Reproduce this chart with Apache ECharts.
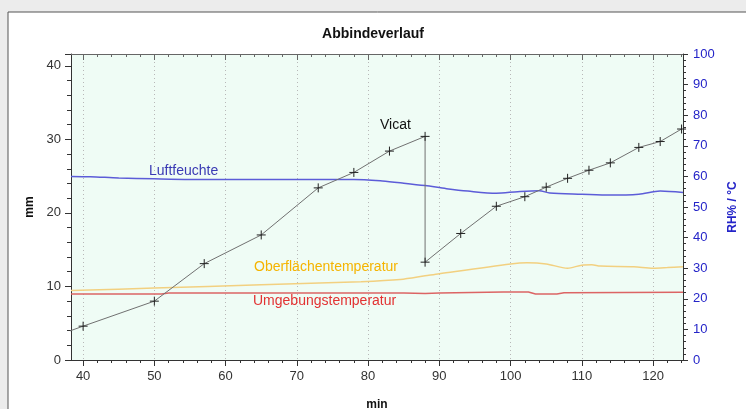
<!DOCTYPE html>
<html>
<head>
<meta charset="utf-8">
<style>
  html, body { margin: 0; padding: 0; background: #ececec; }
  #chart { width: 746px; height: 409px; }
</style>
<script src="https://cdn.jsdelivr.net/npm/echarts@6/dist/echarts.min.js"></script>
</head>
<body>
<div id="chart"></div>
<script>
// Vicat penetration (mm, left axis)
const vicatMin = [38, 40, 50, 57, 65, 73, 78, 83, 88, 88, 93, 98, 102, 105, 108, 111, 114, 118, 121, 124];
const vicatMm = [3.9, 4.6, 8.0, 13.1, 17.0, 23.4, 25.5, 28.4, 30.4, 13.3, 17.2, 20.9, 22.2, 23.5, 24.7, 25.8, 26.8, 28.9, 29.7, 31.4];

// Luftfeuchte (RH %, right axis)
const lfMin = [38.3, 41, 45, 50, 55, 60, 70, 78, 82, 85, 88, 91, 94, 98, 101, 104, 105.5, 110, 114, 118, 121, 124.2];
const lfVal = [60.0, 59.9, 59.5, 59.2, 59.0, 59.0, 59.0, 59.0, 58.5, 57.8, 57.0, 56.0, 55.2, 54.5, 55.0, 55.3, 54.6, 54.2, 53.9, 54.2, 55.2, 54.7];

// Oberflächentemperatur (°C, right axis)
const obMin = [38.3, 50, 65, 79, 84.5, 88, 90, 100, 102.3, 105, 108, 110, 111.4, 112.6, 117.3, 120, 122, 124.2];
const obVal = [22.7, 23.5, 24.6, 25.6, 26.3, 27.5, 28.2, 31.4, 31.8, 31.4, 30.0, 31.0, 31.1, 30.7, 30.5, 30.0, 30.2, 30.5];

// Umgebungstemperatur (°C, right axis)
const umMin = [38.3, 51, 52, 85, 88, 90, 99, 102.5, 103.5, 106.5, 107.5, 124.2];
const umVal = [21.6, 21.6, 21.9, 21.9, 21.7, 21.9, 22.2, 22.2, 21.6, 21.6, 22.0, 22.1];

// x ticks
const xMajorTicks = [40, 50, 60, 70, 80, 90, 100, 110, 120];
const xMinorTicks = [40, 42, 44, 46, 48, 50, 52, 54, 56, 58, 60, 62, 64, 66, 68, 70, 72, 74, 76, 78, 80,
  82, 84, 86, 88, 90, 92, 94, 96, 98, 100, 102, 104, 106, 108, 110, 112, 114, 116, 118, 120, 122, 124];

const xMin = 38.3, xMax = 124.2;

function pairs(xs, ys) {
  return xs.map((x, i) => [x, ys[i]]);
}

const chart = echarts.init(document.getElementById('chart'));
const font = 'Liberation Sans, Arial, sans-serif';
const cross = 'path://M0,5L10,5M5,0L5,10';

function xAxisDef(pos, minor, extra) {
  return Object.assign({
    type: 'value',
    min: xMin,
    max: xMax,
    position: pos,
    axisLine: { show: !minor, lineStyle: { color: pos === 'top' ? '#666' : '#333' } },
    axisTick: {
      show: true,
      inside: pos === 'top',
      length: minor ? 3 : 6,
      customValues: minor ? xMinorTicks : xMajorTicks,
      lineStyle: { color: pos === 'top' ? '#666' : '#333' }
    },
    axisLabel: { show: false },
    splitLine: { show: false }
  }, extra || {});
}

chart.setOption({
  backgroundColor: '#ececec',
  animation: false,
  title: {
    text: 'Abbindeverlauf',
    left: 'center',
    top: 22,
    textStyle: { fontFamily: font, fontSize: 14, fontWeight: 'bold', color: '#111' }
  },
  graphic: [
    {
      type: 'rect', z: -100, silent: true,
      shape: { x: 8, y: 12, width: 760, height: 420 },
      style: { fill: '#ffffff', stroke: '#555', lineWidth: 1 }
    },
    { type: 'text', left: 149, top: 164, z: 100,
      style: { text: 'Luftfeuchte', font: '14px ' + font, fill: '#3a3ab4' } },
    { type: 'text', left: 380, top: 118, z: 100,
      style: { text: 'Vicat', font: '14px ' + font, fill: '#111' } },
    { type: 'text', left: 254, top: 260, z: 100,
      style: { text: 'Oberflächentemperatur', font: '14px ' + font, fill: '#f5b400' } },
    { type: 'text', left: 253, top: 294, z: 100,
      style: { text: 'Umgebungstemperatur', font: '14px ' + font, fill: '#e23232' } }
  ],
  grid: {
    left: 71, right: 63, top: 54, bottom: 49,
    outerBoundsMode: 'none',
    containLabel: false,
    show: true, backgroundColor: '#effcf5', borderWidth: 0
  },
  xAxis: [
    xAxisDef('bottom', false, {
      name: 'min',
      nameLocation: 'middle',
      nameGap: 39,
      nameTextStyle: { fontFamily: font, fontSize: 12, fontWeight: 'bold', color: '#111' },
      axisLabel: {
        show: true, customValues: xMajorTicks, margin: 10,
        fontFamily: font, fontSize: 13, color: '#333'
      },
      splitLine: { show: true, lineStyle: { color: '#b8b8b8', type: [1, 3] } }
    }),
    xAxisDef('bottom', true),
    xAxisDef('top', false),
    xAxisDef('top', true)
  ],
  yAxis: [
    {
      type: 'value',
      min: 0,
      max: 41.6,
      interval: 10,
      position: 'left',
      name: 'mm',
      nameLocation: 'middle',
      nameRotate: 90,
      nameGap: 33,
      nameTextStyle: { fontFamily: font, fontSize: 12, fontWeight: 'bold', color: '#111' },
      axisLine: { show: true, lineStyle: { color: '#333' } },
      axisTick: { show: true, length: 6, lineStyle: { color: '#333' } },
      minorTick: { show: true, splitNumber: 5, length: 4, lineStyle: { color: '#333' } },
      axisLabel: { showMaxLabel: false, margin: 10, fontFamily: font, fontSize: 13, color: '#333' },
      splitLine: { show: false }
    },
    {
      type: 'value',
      min: 0,
      max: 100,
      interval: 10,
      position: 'right',
      name: 'RH% / °C',
      nameLocation: 'middle',
      nameRotate: 90,
      nameGap: 44,
      nameTextStyle: { fontFamily: font, fontSize: 12, fontWeight: 'bold', color: '#2424c8' },
      axisLine: { show: true, lineStyle: { color: '#333' } },
      axisTick: { show: true, length: 5, lineStyle: { color: '#333' } },
      minorTick: { show: true, splitNumber: 5, length: 3, lineStyle: { color: '#333' } },
      axisLabel: { margin: 10, fontFamily: font, fontSize: 13, color: '#2424c8' },
      splitLine: { show: false }
    }
  ],
  series: [
    {
      name: 'Umgebungstemperatur',
      type: 'line',
      xAxisIndex: 0, yAxisIndex: 1,
      data: pairs(umMin, umVal),
      showSymbol: false,
      lineStyle: { color: '#dc6464', width: 1.5 }
    },
    {
      name: 'Oberflächentemperatur',
      type: 'line',
      xAxisIndex: 0, yAxisIndex: 1,
      data: pairs(obMin, obVal),
      showSymbol: false,
      smooth: 0.3,
      lineStyle: { color: '#f2d080', width: 1.5 }
    },
    {
      name: 'Luftfeuchte',
      type: 'line',
      xAxisIndex: 0, yAxisIndex: 1,
      data: pairs(lfMin, lfVal),
      showSymbol: false,
      smooth: 0.3,
      lineStyle: { color: '#5c5cd8', width: 1.5 }
    },
    {
      name: 'Vicat',
      type: 'line',
      xAxisIndex: 0, yAxisIndex: 0,
      data: pairs(vicatMin, vicatMm),
      symbol: cross,
      symbolSize: 9,
      itemStyle: { color: 'transparent', borderColor: '#222', borderWidth: 1 },
      lineStyle: { color: '#707070', width: 1 },
      z: 5
    }
  ]
});
</script>
</body>
</html>
